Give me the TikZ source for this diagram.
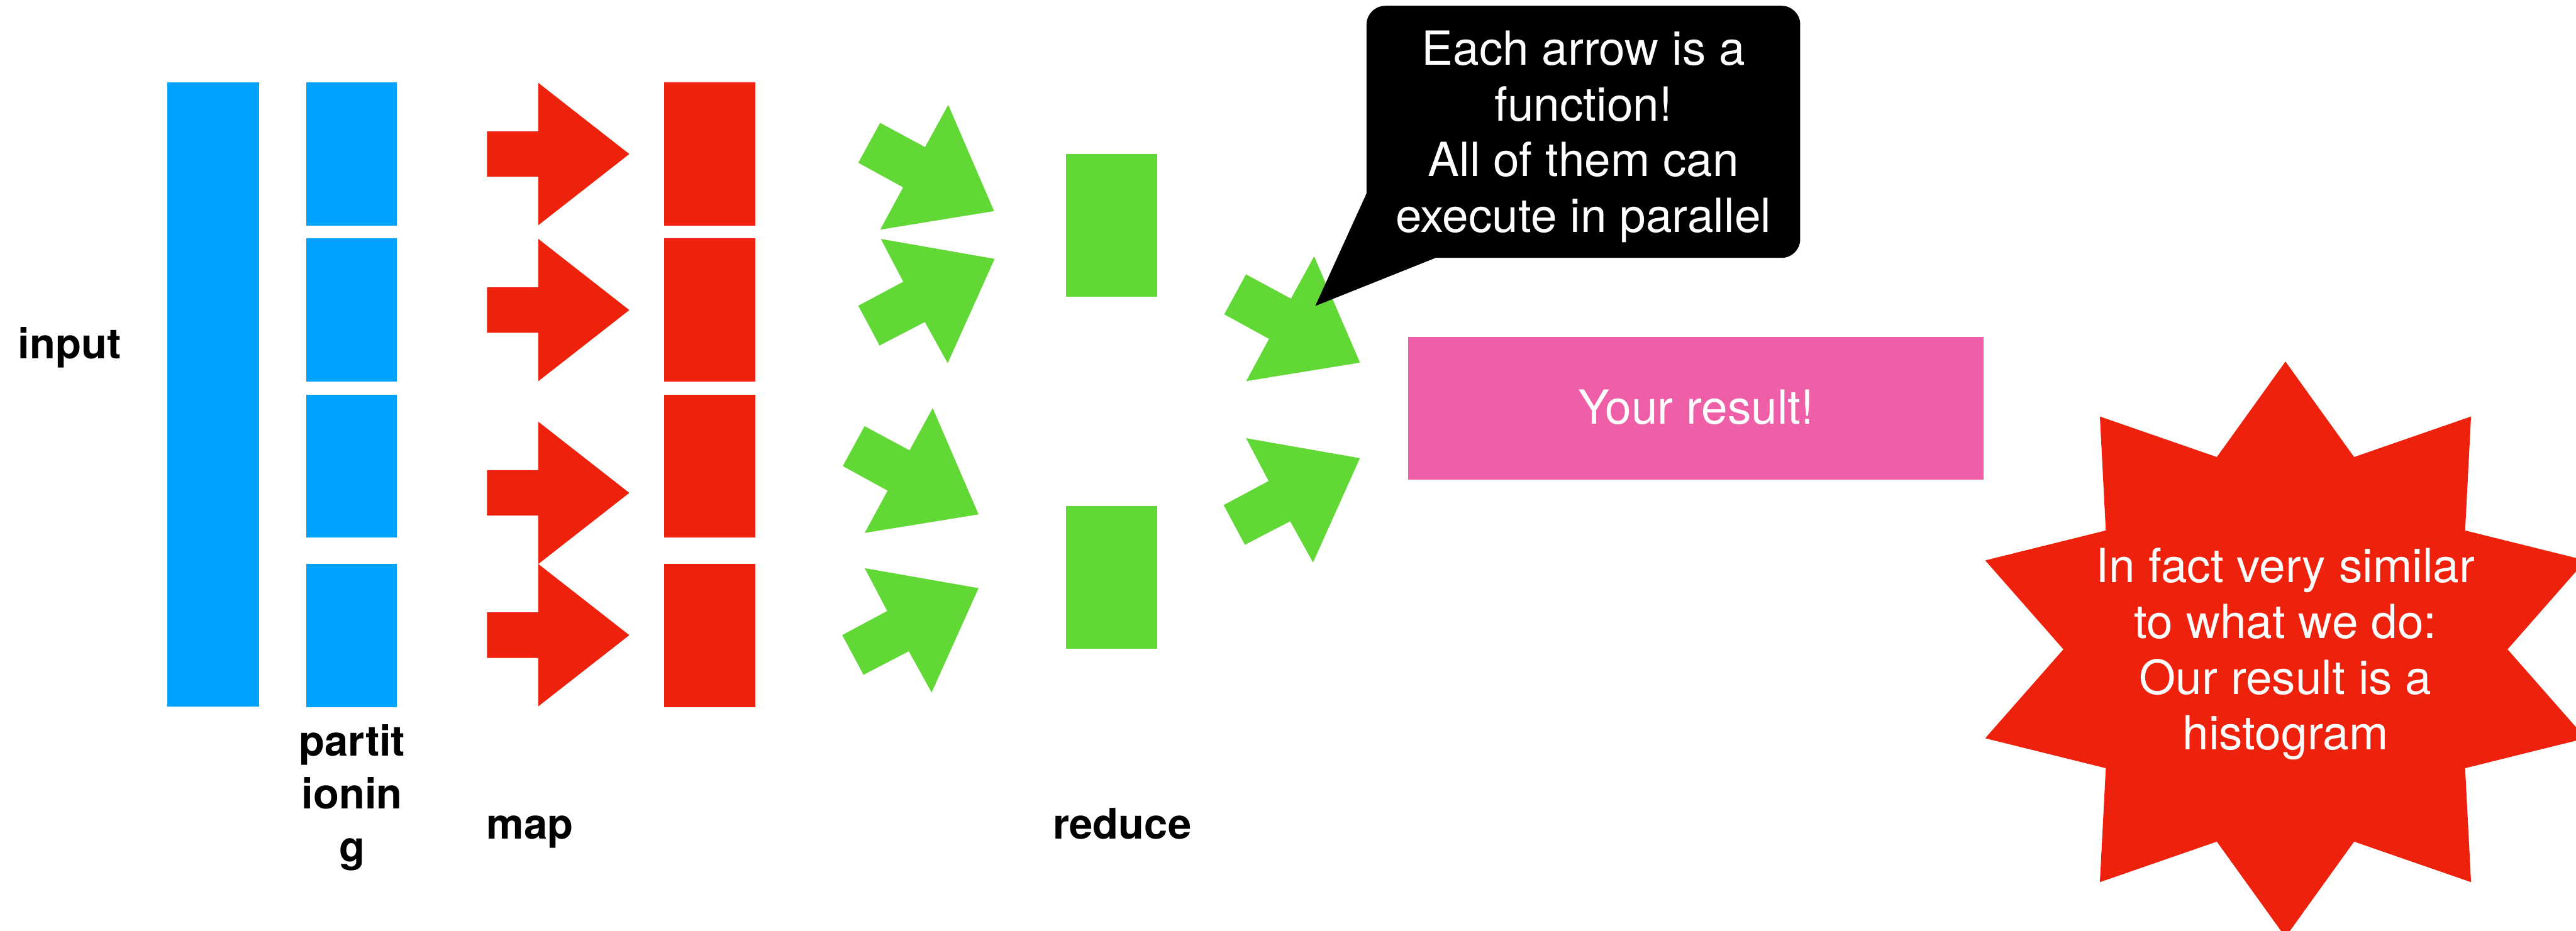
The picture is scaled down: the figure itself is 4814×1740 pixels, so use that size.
\documentclass[tikz,border=0pt]{standalone}
\usepackage{fontspec}
\setmainfont{TeX Gyre Heros}
\definecolor{kblue}{RGB}{0,162,255}
\definecolor{kred}{RGB}{238,34,12}
\definecolor{kgreen}{RGB}{97,216,54}
\definecolor{kpink}{RGB}{239,95,167}
\begin{document}
\begin{tikzpicture}[x=0.01cm,y=-0.01cm,
  blk/.style={inner sep=0pt,outer sep=0pt,minimum width=1.70cm,minimum height=2.67cm},
  lbl/.style={font=\fontsize{22.4}{28.1}\selectfont\bfseries,inner sep=0pt,align=center},
  wtxt/.style={font=\fontsize{25}{29.6}\selectfont,text=white,inner sep=0pt,align=center},
  redarrow/.pic={\fill[kred] (0,-42.5) -- (96,-42.5) -- (96,-133) -- (266,0) -- (96,133) -- (96,42.5) -- (0,42.5) -- cycle;},
  greenA/.pic={\fill[kgreen] (0,0) -- (84,45.3) -- (127.3,-33.7) -- (213,165) -- (0.3,199.6) -- (43,120.6) -- (-40.7,74.6) -- cycle;},
  greenB/.pic={\fill[kgreen] (0,0) -- (212.7,37.3) -- (125,232.3) -- (82.3,155.3) -- (-2.3,199.3) -- (-42,125) -- (42,80) -- cycle;}
]
\clip (0,0) rectangle (4814,1740);
\fill[white] (0,0) rectangle (4814,1740);

% input
\node[blk,fill=kblue,minimum width=1.71cm,minimum height=11.67cm] (input) at (398.5,737.5) {};
\node[lbl,anchor=base] (inputlbl) at (130,670) {input};

% partitions
\node[blk,fill=kblue] (p1) at (657,288) {};
\node[blk,fill=kblue] (p2) at (657,579.3) {};
\node[blk,fill=kblue] (p3) at (657,871.3) {};
\node[blk,fill=kblue] (p4) at (657,1188.3) {};
\node[lbl] (partlbl) at (658,1491) {partit\\ionin\\g};

% map arrows
\pic at (910,288) {redarrow};
\pic at (910,579.7) {redarrow};
\pic at (910,921.5) {redarrow};
\pic at (910,1187.5) {redarrow};
\node[lbl,anchor=base] (maplbl) at (990,1568) {map};

% mapped blocks
\node[blk,fill=kred] (m1) at (1326,288) {};
\node[blk,fill=kred] (m2) at (1326,579.3) {};
\node[blk,fill=kred] (m3) at (1326,871.3) {};
\node[blk,fill=kred] (m4) at (1326,1188.3) {};

% reduce arrows
\pic at (1644.7,229.7) {greenA};
\pic at (1646,446.7) {greenB};
\pic at (1615.7,796.7) {greenA};
\pic at (1616,1062.3) {greenB};

% reduced blocks
\node[blk,fill=kgreen] (r1) at (2077,421) {};
\node[blk,fill=kgreen] (r2) at (2077,1079.5) {};
\node[lbl,anchor=base] (redlbl) at (2097,1568) {reduce};

% final arrows
\pic at (2328.5,513) {greenA};
\pic at (2328.7,819.3) {greenB};

% result
\node[blk,fill=kpink,minimum width=10.75cm] (result) at (3169.5,763.5) {};
\node[wtxt,anchor=base] (resultlbl) at (3169.5,793) {Your result!};

% callout
\node[blk,fill=black,rounded corners=3.5mm,minimum width=8.10cm,minimum height=4.71cm] (callout) at (2959,246.5) {};
\coordinate (tailtip) at (2458,572);
\fill[black] (2554,361) -- (tailtip) -- (2683,482) -- cycle;
\node[wtxt] (callouttxt) at (2959,255.5) {Each arrow is a\\function!\\All of them can\\execute in parallel};

% star
\fill[kred] (4271,676) \foreach \i [evaluate=\i as \a using 90+18*\i, evaluate=\i as \rx using {ifthenelse(mod(\i,2)==0,590,415)}, evaluate=\i as \ry using {ifthenelse(mod(\i,2)==0,538,378)}] in {1,...,19} { -- ({4271+\rx*cos(\a)},{1214-\ry*sin(\a)}) } -- cycle;
\node[wtxt] (star) at (4271,1223) {In fact very similar\\to what we do:\\Our result is a\\histogram};
\end{tikzpicture}
\end{document}
